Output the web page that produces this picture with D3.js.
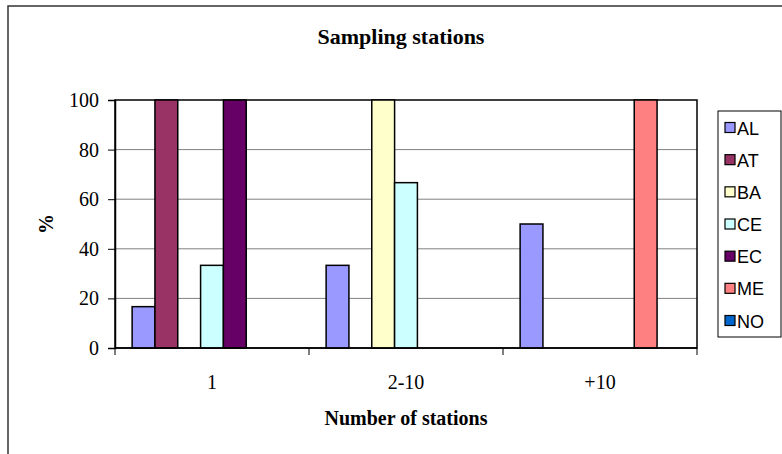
<!DOCTYPE html>
<html>
<head>
<meta charset="utf-8">
<script src="https://cdn.jsdelivr.net/npm/d3@7.9.0/dist/d3.min.js"></script>
<style>
  html, body { margin: 0; padding: 0; background: #fff; }
  svg { display: block; }
</style>
</head>
<body>
<svg width="782" height="454"></svg>
<script>
const categories = ['1', '2-10', '+10'];
const seriesNames = ['AL', 'AT', 'BA', 'CE', 'EC', 'ME', 'NO'];
const AL = [16.67, 33.33, 50];
const AT = [100, 0, 0];
const BA = [0, 100, 0];
const CE = [33.33, 66.67, 0];
const EC = [100, 0, 0];
const ME = [0, 0, 100];
const NO = [0, 0, 0];
const yTicks = [0, 20, 40, 60, 80, 100];
const seriesColors = ['#9999FF', '#993366', '#FFFFCC', '#CCFFFF', '#660066', '#FF8080', '#0066CC'];

const seriesValues = [AL, AT, BA, CE, EC, ME, NO];

const svg = d3.select('svg');
const plot = { left: 115, right: 697, top: 100, bottom: 348 };
const serif = '"Liberation Serif", "Times New Roman", serif';

// outer frame (only left and top edges are visible)
svg.append('path')
  .attr('d', 'M8,454 L8,6 L782,6')
  .attr('fill', 'none')
  .attr('stroke', '#333')
  .attr('stroke-width', 1.5);

let x0 = d3.scaleBand().domain(categories).range([plot.left, plot.right]);
let gap = x0.bandwidth() * 1.5 / 8.5 / 2;
let x1 = d3.scaleBand().domain(seriesNames).range([gap, x0.bandwidth() - gap]);
let y = d3.scaleLinear().domain([0, 100]).range([plot.bottom, plot.top]);

// gridlines
svg.append('g')
  .selectAll('line')
  .data(yTicks.filter(t => t > 0 && t < 100))
  .join('line')
  .attr('x1', plot.left).attr('x2', plot.right)
  .attr('y1', d => y(d)).attr('y2', d => y(d))
  .attr('stroke', '#808080').attr('stroke-width', 1);

// plot frame
svg.append('rect')
  .attr('x', plot.left).attr('y', plot.top)
  .attr('width', plot.right - plot.left).attr('height', plot.bottom - plot.top)
  .attr('fill', 'none').attr('stroke', '#000').attr('stroke-width', 1.5);

// bars
seriesValues.forEach((vals, si) => {
  svg.append('g')
    .selectAll('rect')
    .data(vals.map((v, ci) => ({ v, c: categories[ci] })).filter(d => d.v > 0))
    .join('rect')
    .attr('x', d => x0(d.c) + x1(seriesNames[si]))
    .attr('width', x1.bandwidth())
    .attr('y', d => y(d.v))
    .attr('height', d => y(0) - y(d.v))
    .attr('fill', seriesColors[si])
    .attr('stroke', '#000')
    .attr('stroke-width', 1.5);
});

// y axis
let yAxis = svg.append('g')
  .attr('transform', `translate(${plot.left},0)`)
  .call(d3.axisLeft(y).tickValues(yTicks).tickSize(7).tickPadding(9));
yAxis.select('.domain').attr('stroke', '#000').attr('stroke-width', 1.5);
yAxis.selectAll('.tick line').attr('stroke', '#000');
yAxis.selectAll('.tick text')
  .attr('font-family', serif)
  .attr('font-size', 20).attr('fill', '#000');

// x axis: ticks at category boundaries
let xAxis = svg.append('g')
  .attr('transform', `translate(0,${plot.bottom})`);
xAxis.append('line')
  .attr('x1', plot.left).attr('x2', plot.right)
  .attr('stroke', '#000').attr('stroke-width', 1.5);
let bounds = categories.map(c => x0(c)).concat([plot.right]);
xAxis.selectAll('.xt')
  .data(bounds)
  .join('line')
  .attr('class', 'xt')
  .attr('x1', d => d).attr('x2', d => d)
  .attr('y1', 0).attr('y2', 7)
  .attr('stroke', '#000');
xAxis.selectAll('text')
  .data(categories)
  .join('text')
  .attr('x', d => x0(d) + x0.bandwidth() / 2)
  .attr('y', 41)
  .attr('text-anchor', 'middle')
  .attr('font-family', serif)
  .attr('font-size', 20)
  .text(d => d);

// titles
svg.append('text')
  .attr('x', 401).attr('y', 44)
  .attr('text-anchor', 'middle')
  .attr('font-family', serif)
  .attr('font-weight', 'bold')
  .attr('font-size', 22)
  .text('Sampling stations');

svg.append('text')
  .attr('x', 406).attr('y', 425)
  .attr('text-anchor', 'middle')
  .attr('font-family', serif)
  .attr('font-weight', 'bold')
  .attr('font-size', 20)
  .text('Number of stations');

svg.append('text')
  .attr('transform', 'translate(53,224) rotate(-90)')
  .attr('text-anchor', 'middle')
  .attr('font-family', serif)
  .attr('font-weight', 'bold')
  .attr('font-size', 20)
  .text('%');

// legend
let legend = svg.append('g');
legend.append('rect')
  .attr('x', 718).attr('y', 111)
  .attr('width', 63).attr('height', 226)
  .attr('fill', '#fff').attr('stroke', '#000').attr('stroke-width', 1);
let ly = d3.scalePoint().domain(seriesNames).range([128, 321]);
let items = legend.selectAll('.item')
  .data(seriesNames)
  .join('g')
  .attr('class', 'item')
  .attr('transform', d => `translate(0,${ly(d)})`);
items.append('rect')
  .attr('x', 725).attr('y', -5.5)
  .attr('width', 10).attr('height', 10)
  .attr('fill', (d, i) => seriesColors[i])
  .attr('stroke', '#000').attr('stroke-width', 1.2);
items.append('text')
  .attr('x', 737).attr('y', 6.5)
  .attr('font-family', '"Liberation Sans", Arial, sans-serif')
  .attr('font-size', 18)
  .text(d => d);
</script>
</body>
</html>
